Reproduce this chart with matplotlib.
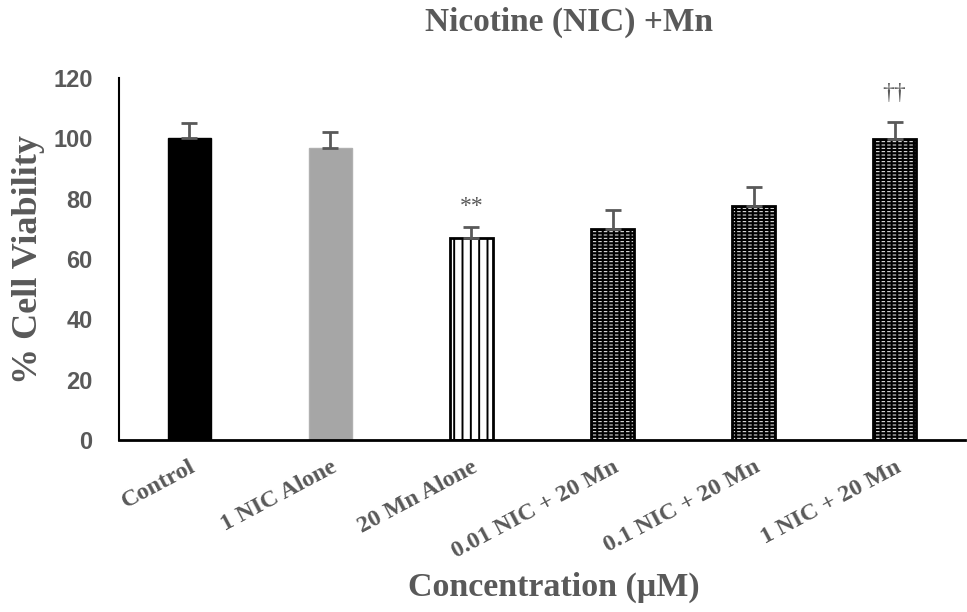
import matplotlib
matplotlib.use("Agg")
import matplotlib.pyplot as plt
import numpy as np

categories = ["Control", "1 NIC Alone", "20 Mn Alone", "0.01 NIC + 20 Mn", "0.1 NIC + 20 Mn", "1 NIC + 20 Mn"]
means = [100, 96.8, 67, 70, 77.6, 99.8]
errors = [5.2, 5.2, 3.6, 6.2, 6.2, 5.6]
annotations = {2: "**", 5: "\u2020\u2020"}
annot_y = {2: 77.5, 5: 115}
yticks = [0, 20, 40, 60, 80, 100, 120]

grey = "#595959"


def hatch_lw(patches, lw):
    for p in patches:
        if hasattr(p, "set_hatch_linewidth"):
            p.set_hatch_linewidth(lw)
        else:
            p._hatch_linewidth = lw


fig = plt.figure(figsize=(9.67, 6.12), dpi=100)
ax = fig.add_axes([0.123, 0.281, 0.875, 0.5915])
x = np.arange(len(categories))
w = 0.31

# Control
ax.bar(x[0], means[0], w, color="black", edgecolor="black", zorder=2)
# 1 NIC alone
ax.bar(x[1], means[1], w, color="#a6a6a6", edgecolor="#b0b0b0", zorder=2)
# 20 Mn alone: vertical stripes
b = ax.bar(x[2], means[2], w, color="white", edgecolor="black", hatch="||", linewidth=2, zorder=2)
hatch_lw(b, 1.4)
# brick pattern bars
for i in range(3, 6):
    b1 = ax.bar(x[i], means[i], w, color="black", edgecolor="white", hatch="-----", linewidth=0, zorder=2)
    hatch_lw(b1, 0.7)
    b2 = ax.bar(x[i], means[i], w, color="none", edgecolor="black", hatch="|||", linewidth=2, zorder=3)
    hatch_lw(b2, 1.5)

ax.errorbar(x, means, yerr=[np.zeros(len(means)), errors], fmt="none", ecolor=grey,
            elinewidth=2, capsize=6, capthick=2, zorder=4)

for i, t in annotations.items():
    ax.text(x[i], annot_y[i], t, ha="center", va="center", color=grey,
            fontsize=17, family="Liberation Serif")

ax.set_xlim(-0.5, 5.5)
ax.set_ylim(0, 120)
ax.set_yticks(yticks)
ax.set_yticklabels([str(v) for v in yticks], fontsize=17, fontweight="bold",
                   color=grey, family="Liberation Sans")
ax.set_xticks(x)
ax.set_xticklabels(categories, rotation=28, ha="right", rotation_mode="anchor",
                   fontsize=17.5, fontweight="bold", color=grey, family="Liberation Serif")
ax.tick_params(axis="y", length=0, pad=19)
ax.tick_params(axis="x", length=0, pad=12)
for s in ["top", "right"]:
    ax.spines[s].set_visible(False)
ax.spines["left"].set_linewidth(1.5)
ax.spines["bottom"].set_linewidth(2)

ax.set_ylabel("% Cell Viability", fontsize=26, fontweight="bold", color=grey,
              family="Liberation Serif", labelpad=6)
ax.set_xlabel("Concentration (\u03bcM)", fontsize=24.5, fontweight="bold", color=grey,
              family="Liberation Serif")
ax.xaxis.set_label_coords(0.5135, -0.406)
ax.xaxis.label.set_va("center")
fig.text(0.588, 0.964, "Nicotine (NIC) +Mn", ha="center", va="center", fontsize=24,
         fontweight="bold", color=grey, family="Liberation Serif")

fig.savefig("out.png", dpi=100)
